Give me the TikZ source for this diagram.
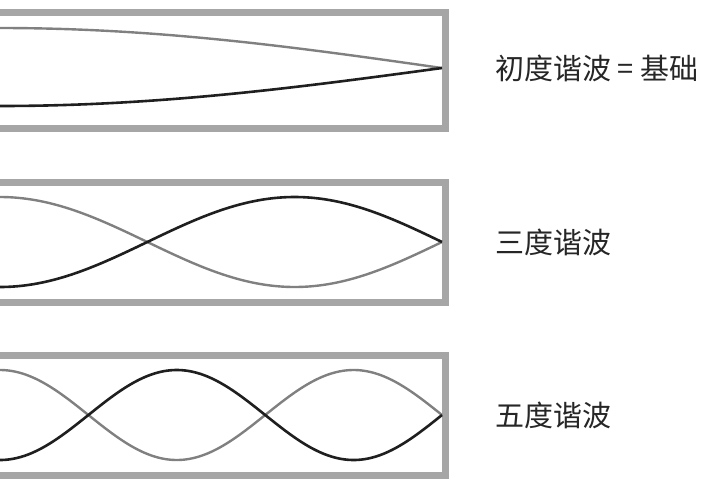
\documentclass[tikz,border=0pt]{standalone}
\usepackage{fontspec}
\newfontfamily\cjk{Noto Sans CJK SC}
\begin{document}
\begin{tikzpicture}[x=1pt,y=-1pt,
  wall/.style={line width=7pt,color=black!35},
  wblack/.style={line width=2.6pt,color=black!88},
  wgray/.style={line width=2.4pt,color=black!50},
  lbl/.style={anchor=west,inner sep=0pt,font=\cjk\fontsize{29}{34}\selectfont,text=black!85}]
\useasboundingbox (0,0) rectangle (720,480);
\foreach \t/\b in {12/128,182/302,355/475}{
  \draw[wall] (0,\t) -- (445,\t) -- (445,\b) -- (0,\b);
}
% fundamental
\draw[wgray] plot[domain=0:442,samples=80] (\x,{68-40*cos(\x/442*90)});
\draw[wblack] plot[domain=0:442,samples=80] (\x,{68+38*cos(\x/442*90)});
% third
\draw[wgray] plot[domain=0:442,samples=120] (\x,{242-45*cos(\x/442*270)});
\draw[wblack] plot[domain=0:442,samples=120] (\x,{242+45*cos(\x/442*270)});
% fifth
\draw[wgray] plot[domain=0:442,samples=160] (\x,{415-45*cos(\x/442*450)});
\draw[wblack] plot[domain=0:442,samples=160] (\x,{415+45*cos(\x/442*450)});
\node[lbl] (l1) at (495,68) {初度谐波 = 基础};
\node[lbl] (l3) at (495,242) {三度谐波};
\node[lbl] (l5) at (495,415) {五度谐波};
\end{tikzpicture}
\end{document}
